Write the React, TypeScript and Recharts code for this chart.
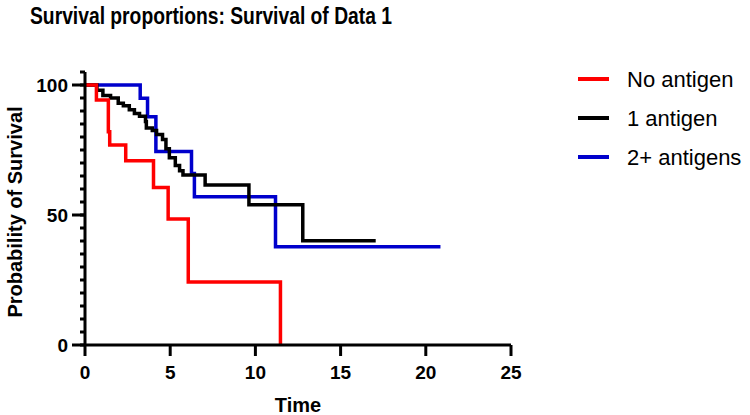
import React from 'react';
import { LineChart, Line, XAxis, YAxis } from 'recharts';

const FONT = "'Liberation Sans', Arial, Helvetica, sans-serif";

const chartTitle = 'Survival proportions: Survival of Data 1';
const xAxisTitle = 'Time';
const yAxisTitle = 'Probability of Survival';

const seriesNames = ['No antigen', '1 antigen', '2+ antigens'];
const seriesColors = ['#FF0000', '#000000', '#0000CC'];

// Kaplan-Meier steps (time, survival %)
const noAntigenTime = [0, 0.67, 1.37, 1.45, 2.39, 4.02, 4.88, 6.06, 11.47];
const noAntigenSurv = [100, 94.2, 82, 76.9, 70.9, 60.6, 48.5, 24.2, 0];

const oneAntigenTime = [0, 0.7, 1.05, 1.5, 1.95, 2.25, 2.6, 2.9, 3.2, 3.55, 3.6, 3.95, 4.2, 4.55, 4.75, 4.95, 5.3, 5.55, 5.75, 7.05, 9.62, 12.78, 17.06];
const oneAntigenSurv = [100, 98, 96, 95, 93, 92, 90.5, 89, 88, 86, 83.5, 82.5, 81, 79, 75.5, 72, 69, 67, 65.4, 61.5, 53.9, 40.1, 40.1];

const twoAntigenTime = [0, 3.24, 3.67, 4.16, 6.25, 6.42, 11.18, 20.86];
const twoAntigenSurv = [100, 94.9, 87.8, 74.4, 66, 57, 37.8, 37.8];

const xTicks = [0, 5, 10, 15, 20, 25];
const yMajorTicks = [0, 50, 100];
const yAllTicks = [0, 5, 10, 15, 20, 25, 30, 35, 40, 45, 50, 55, 60, 65, 70, 75, 80, 85, 90, 95, 100, 105];

const toPoints = (t: number[], s: number[]) => t.map((x, i) => ({ time: x, surv: s[i] }));

const seriesData = [
  toPoints(noAntigenTime, noAntigenSurv),
  toPoints(oneAntigenTime, oneAntigenSurv),
  toPoints(twoAntigenTime, twoAntigenSurv),
];

const YTick = (props: any) => {
  const { x, y, payload } = props;
  const v = payload.value;
  if (!yMajorTicks.includes(v)) return null;
  return (
    <g>
      <line x1={x + 4} x2={x + 17} y1={y} y2={y} stroke="#000" strokeWidth={3} />
      <text x={x} y={y} dy="0.355em" textAnchor="end" fontFamily={FONT} fontWeight="bold" fontSize={19} fill="#000">
        {v}
      </text>
    </g>
  );
};

const XTick = (props: any) => {
  const { x, y, payload } = props;
  return (
    <text x={x} y={y} dy="0.71em" textAnchor="middle" fontFamily={FONT} fontWeight="bold" fontSize={19} fill="#000">
      {payload.value}
    </text>
  );
};

export default function App() {
  const order = [2, 1, 0];
  return (
    <div style={{ position: 'absolute', left: 0, top: 0, width: 750, height: 415, background: '#fff' }}>
      <LineChart width={750} height={415} margin={{ top: 72, right: 239, bottom: 2, left: 0 }}>
        <XAxis
          dataKey="time"
          type="number"
          domain={[0, 25]}
          ticks={xTicks}
          interval={0}
          height={68}
          tickSize={11}
          tickMargin={10}
          axisLine={{ stroke: '#000', strokeWidth: 3 }}
          tickLine={{ stroke: '#000', strokeWidth: 3 }}
          tick={<XTick />}
          allowDataOverflow
        />
        <YAxis
          type="number"
          domain={[0, 105]}
          ticks={yAllTicks}
          interval={0}
          width={85}
          tickSize={5}
          tickMargin={12}
          axisLine={{ stroke: '#000', strokeWidth: 3 }}
          tickLine={{ stroke: '#000', strokeWidth: 3 }}
          tick={<YTick />}
          allowDataOverflow
        />
        {order.map((i) => (
          <Line
            key={seriesNames[i]}
            data={seriesData[i]}
            dataKey="surv"
            name={seriesNames[i]}
            type="stepAfter"
            stroke={seriesColors[i]}
            strokeWidth={3.5}
            dot={false}
            activeDot={false}
            isAnimationActive={false}
          />
        ))}
      </LineChart>
      <svg width={750} height={415} style={{ position: 'absolute', left: 0, top: 0, pointerEvents: 'none' }}>
        <text
          x={30}
          y={24}
          fontFamily={FONT}
          fontWeight="bold"
          fontSize={23}
          fill="#000"
          textLength={362}
          lengthAdjust="spacingAndGlyphs"
        >
          {chartTitle}
        </text>
        <text x={298} y={412} textAnchor="middle" fontFamily={FONT} fontWeight="bold" fontSize={20} fill="#000">
          {xAxisTitle}
        </text>
        <text transform="rotate(-90)" x={-212} y={22} textAnchor="middle" fontFamily={FONT} fontWeight="bold" fontSize={20} fill="#000">
          {yAxisTitle}
        </text>
        {seriesNames.map((name, i) => (
          <g key={name}>
            <line x1={578} x2={609} y1={79 + i * 39} y2={79 + i * 39} stroke={seriesColors[i]} strokeWidth={4} />
            <text x={627} y={86.5 + i * 39} fontFamily={FONT} fontSize={22} fill="#000">
              {name}
            </text>
          </g>
        ))}
      </svg>
    </div>
  );
}
